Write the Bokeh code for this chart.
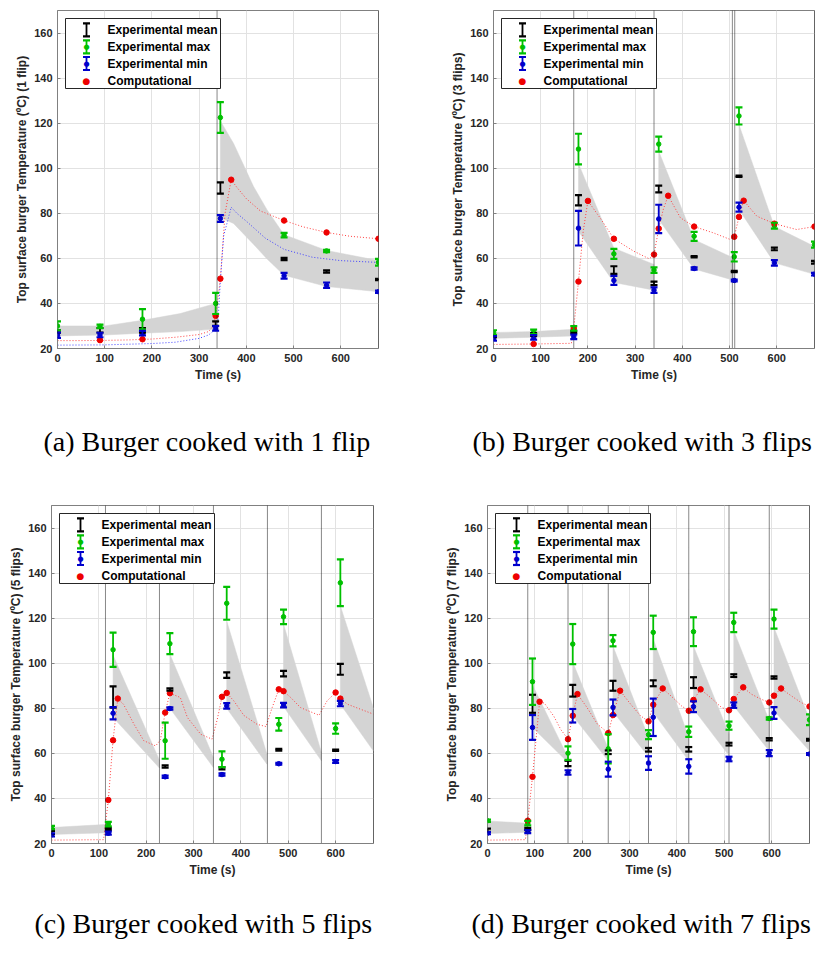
from bokeh.plotting import figure
from bokeh.models import (ColumnDataSource, Whisker, TeeHead, Span, Label,
                          BoxAnnotation, Range1d, FixedTicker, Title)
from bokeh.layouts import row, column
from bokeh.embed import file_html
from bokeh.resources import INLINE

# ---------------- Panel (a): 1 flip ----------------
A_T = [0, 90, 180, 335, 345, 480, 570, 680]
A_MEAN = [27.5, 28.1, 28.0, 31.0, 91.2, 59.7, 54.2, 50.6]
A_MEAN_ERR = [0.5, 1.0, 1.0, 1.0, 2.5, 0.5, 0.5, 0.3]
A_MAX = [30.0, 29.8, 33.0, 40.0, 122.5, 70.3, 63.3, 58.3]
A_MAX_ERR = [2.0, 0.8, 4.5, 4.7, 6.8, 1.0, 0.5, 1.5]
A_MIN = [25.9, 26.0, 26.8, 28.9, 77.7, 52.3, 48.1, 45.2]
A_MIN_ERR = [1.2, 1.0, 1.0, 1.0, 1.5, 1.3, 1.2, 0.5]
A_COMP_T = [90, 180, 335, 345, 368, 480, 570, 680]
A_COMP = [23.7, 24.1, 34.5, 51.0, 94.9, 76.8, 71.5, 68.7]
A_CURVE_T = [0, 50, 100, 150, 200, 250, 300, 320, 330, 335, 340, 345, 355, 368, 380, 400, 430, 480, 520, 570, 620, 680]
A_CURVE = [23.5, 23.5, 23.6, 23.8, 24.2, 25.0, 26.2, 27.5, 30.0, 34.5, 42.0, 51.0, 80.0, 94.9, 91.5, 86.5, 81.0, 76.8, 74.0, 71.5, 69.8, 68.7]
A_MINCURVE_T = [0, 100, 200, 250, 300, 320, 335, 340, 345, 352, 368, 380, 400, 440, 480, 540, 600, 680]
A_MINCURVE = [21.5, 21.6, 22.2, 22.8, 24.5, 26.0, 28.5, 32.0, 50.0, 70.0, 82.7, 80.0, 76.5, 69.0, 64.0, 60.5, 59.0, 58.2]
A_BAND_T = [[0, 100, 180, 260, 335], [345, 373, 415, 444, 480, 570, 680]]
A_BAND_HI = [[30.0, 30.0, 32.5, 35.5, 40.0], [121.0, 111.0, 92.0, 81.5, 70.5, 63.5, 59.0]]
A_BAND_LO = [[25.6, 26.0, 26.8, 27.5, 28.6], [78.0, 75.5, 66.3, 59.7, 52.5, 47.5, 45.2]]
A_FLIPS = [338, 680]

# ---------------- Panel (b): 3 flips ----------------
B_T = [0, 85, 170, 180, 255, 340, 350, 425, 510, 520, 595, 680]
B_MEAN = [25.5, 26.2, 27.3, 85.8, 54.8, 48.9, 90.8, 60.7, 54.2, 96.4, 64.2, 58.3]
B_MEAN_ERR = [0.5, 0.6, 0.5, 2.3, 1.7, 0.8, 1.5, 0.3, 0.3, 0.3, 0.6, 0.6]
B_MAX = [27.1, 27.4, 28.9, 108.5, 62.0, 54.8, 110.7, 69.8, 60.7, 123.2, 74.5, 66.1]
B_MAX_ERR = [1.0, 1.0, 1.0, 6.8, 2.2, 1.2, 3.3, 2.0, 2.1, 3.8, 1.3, 1.3]
B_MIN = [24.5, 24.9, 25.2, 73.4, 50.2, 45.9, 77.5, 55.5, 50.2, 82.7, 58.0, 53.0]
B_MIN_ERR = [1.0, 1.0, 1.0, 7.7, 2.0, 1.2, 6.3, 0.5, 0.4, 2.0, 1.2, 0.6]
B_COMP_T = [85, 170, 180, 200, 255, 340, 350, 370, 425, 510, 520, 530, 595, 680]
B_COMP = [22.0, 29.0, 49.7, 85.5, 68.7, 61.7, 73.2, 87.8, 74.1, 69.6, 78.4, 85.6, 75.4, 74.1]
B_CURVE_T = [0, 85, 165, 170, 180, 190, 200, 227, 255, 297, 330, 340, 350, 360, 370, 396, 425, 466, 500, 510, 520, 530, 558, 595, 642, 680]
B_CURVE = [21.8, 22.0, 22.3, 29.0, 49.7, 72.0, 85.5, 77.6, 68.7, 63.2, 59.8, 61.7, 73.2, 82.0, 87.8, 78.0, 74.1, 71.3, 68.5, 69.6, 78.4, 85.6, 78.7, 75.4, 72.8, 74.1]
B_BAND_T = [[0, 85, 170], [180, 255, 340], [350, 425, 510], [520, 595, 680]]
B_BAND_HI = [[27.1, 27.5, 28.5], [102.0, 64.5, 57.3], [107.5, 68.3, 60.0], [119.3, 74.1, 65.3]]
B_BAND_LO = [[24.5, 25.0, 25.6], [72.0, 49.3, 45.9], [77.2, 55.3, 50.2], [81.7, 58.0, 52.9]]
B_FLIPS = [170, 340, 506, 511, 680]

# ---------------- Panel (c): 5 flips ----------------
C_T = [0, 120, 130, 240, 250, 360, 370, 480, 490, 600, 610]
C_MEAN = [24.9, 26.4, 85.0, 54.2, 88.3, 53.4, 94.7, 61.6, 95.4, 61.4, 97.3]
C_MEAN_ERR = [0.7, 0.5, 4.7, 0.5, 0.5, 0.5, 1.2, 0.4, 1.2, 0.3, 2.4]
C_MAX = [27.1, 28.6, 106.0, 65.6, 108.7, 57.4, 126.6, 72.9, 120.6, 71.0, 135.7]
C_MAX_ERR = [0.7, 1.0, 7.6, 8.0, 4.7, 3.5, 7.3, 2.8, 3.2, 2.3, 10.4]
C_MIN = [23.8, 24.6, 77.8, 49.6, 79.9, 50.6, 81.1, 55.4, 81.4, 56.4, 82.1]
C_MIN_ERR = [0.7, 0.7, 2.7, 0.5, 0.5, 0.5, 1.2, 0.4, 1.0, 0.6, 1.2]
C_COMP_T = [120, 130, 140, 240, 250, 360, 370, 480, 490, 600, 610]
C_COMP = [39.3, 65.8, 84.3, 78.1, 86.7, 85.1, 86.8, 88.4, 87.6, 87.0, 84.3]
C_CURVE_T = [0, 110, 120, 130, 140, 152, 174, 195, 220, 230, 240, 250, 272, 287, 315, 339, 350, 360, 370, 385, 406, 434, 453, 466, 480, 490, 505, 526, 565, 582, 600, 610, 625, 680]
C_CURVE = [21.5, 21.7, 39.3, 65.8, 84.3, 81.8, 73.0, 65.6, 63.3, 66.0, 78.1, 86.7, 84.8, 75.9, 68.5, 66.3, 75.0, 85.1, 86.8, 83.3, 76.9, 72.9, 71.9, 80.3, 88.4, 87.6, 84.8, 80.3, 76.9, 83.3, 87.0, 84.3, 81.8, 77.4]
C_BAND_T = [[0, 120], [130, 228], [250, 342], [370, 455], [490, 570], [610, 680]]
C_BAND_HI = [[27.1, 28.5], [103.5, 57.0], [104.0, 58.2], [118.7, 59.6], [117.3, 60.4], [125.4, 80.0]]
C_BAND_LO = [[24.0, 24.8], [76.0, 53.5], [80.0, 53.7], [80.0, 55.2], [80.8, 56.7], [81.8, 61.0]]
C_FLIPS = [114, 228, 342, 456, 570, 680]

# ---------------- Panel (d): 7 flips ----------------
D_T = [0, 85, 95, 170, 180, 255, 265, 340, 350, 425, 435, 510, 520, 595, 605, 680]
D_MEAN = [25.9, 26.4, 82.0, 55.5, 87.8, 60.5, 90.0, 61.6, 91.1, 61.8, 91.4, 64.1, 94.5, 66.3, 93.7, 66.0]
D_MEAN_ERR = [0.7, 0.5, 4.0, 1.2, 2.6, 0.8, 2.2, 0.8, 1.3, 1.0, 2.4, 0.6, 0.6, 0.5, 0.5, 0.4]
D_MAX = [30.1, 29.0, 91.8, 60.1, 108.5, 62.0, 110.0, 68.3, 113.7, 69.6, 114.0, 72.3, 118.1, 75.5, 119.6, 74.9]
D_MAX_ERR = [0.5, 1.0, 10.3, 3.0, 8.9, 6.5, 2.5, 2.0, 7.4, 2.3, 6.4, 1.8, 4.3, 0.5, 4.2, 2.4]
D_MIN = [24.6, 25.3, 71.5, 51.5, 76.7, 53.0, 80.4, 55.7, 76.0, 54.2, 80.7, 57.5, 81.4, 60.1, 77.9, 59.7]
D_MIN_ERR = [0.5, 0.7, 5.5, 1.0, 3.0, 3.3, 3.5, 3.0, 8.3, 3.2, 2.4, 1.0, 1.2, 1.3, 2.6, 0.4]
D_COMP_T = [85, 95, 110, 170, 180, 190, 255, 265, 280, 340, 350, 370, 425, 435, 450, 510, 520, 540, 595, 605, 620, 680]
D_COMP = [30.1, 49.6, 82.9, 66.3, 76.7, 86.3, 69.0, 77.0, 87.8, 74.2, 81.6, 88.8, 78.9, 83.7, 88.4, 79.1, 84.1, 89.3, 82.6, 85.6, 88.8, 80.8]
D_CURVE_T = [0, 80, 85, 95, 110, 120, 140, 155, 170, 180, 190, 210, 232, 255, 265, 280, 302, 323, 340, 350, 370, 390, 410, 425, 435, 450, 471, 494, 510, 520, 540, 557, 577, 595, 605, 620, 641, 662, 680]
D_CURVE = [21.5, 21.7, 30.1, 49.6, 82.9, 82.3, 76.5, 70.5, 66.3, 76.7, 86.3, 80.4, 73.0, 69.0, 77.0, 87.8, 81.9, 76.7, 74.2, 81.6, 88.8, 85.0, 81.0, 78.9, 83.7, 88.4, 84.8, 80.4, 79.1, 84.1, 89.3, 86.3, 84.1, 82.6, 85.6, 88.8, 85.6, 82.6, 80.8]
D_BAND_T = [[0, 85], [95, 170], [180, 255], [265, 340], [350, 425], [435, 510], [520, 595], [605, 680]]
D_BAND_HI = [[30.0, 29.0], [90.3, 58.2], [100.4, 62.0], [107.5, 67.0], [110.7, 67.1], [107.5, 68.6], [114.4, 74.5], [115.9, 75.0]]
D_BAND_LO = [[24.4, 25.0], [71.5, 56.0], [76.7, 56.7], [78.6, 58.5], [78.2, 56.7], [79.7, 59.0], [81.1, 61.0], [78.9, 61.0]]
D_FLIPS = [85, 170, 255, 340, 425, 510, 595, 680]

X_TICKS = [0, 100, 200, 300, 400, 500, 600]
Y_TICKS = [20, 40, 60, 80, 100, 120, 140, 160]
LEGEND_LABELS = ["Experimental mean", "Experimental max", "Experimental min", "Computational"]

SANS = "Liberation Sans"
SERIF = "Liberation Serif"
AXC = "#262626"
EDGE = "#808080"
GRID = "#e2e2e2"
GREEN = "#00c000"
BLUE = "#0000cc"
RED = "#ee0000"
BAND = "#d4d4d4"
X0, X1, Y0, Y1 = 0, 680, 20, 170


def ibeam(p, src, color):
    p.add_layout(Whisker(source=src, base="t", upper="up", lower="lo",
                         dimension="height", line_color=color, line_width=1.8,
                         level="annotation",
                         upper_head=TeeHead(size=7, line_color=color, line_width=2.2),
                         lower_head=TeeHead(size=7, line_color=color, line_width=2.2)))


def errbars(p, t, v, e, color):
    src = ColumnDataSource(dict(t=t, up=[a + b for a, b in zip(v, e)],
                                lo=[a - b for a, b in zip(v, e)]))
    ibeam(p, src, color)


def legend_box(p, fw, fh):
    # legend drawn with annotations; positions are pixel offsets inside the frame
    sx = (X1 - X0) / fw
    sy = (Y1 - Y0) / fh

    def dx(px):
        return X0 + px * sx

    def dy(py):
        return Y1 - py * sy

    p.add_layout(BoxAnnotation(left=dx(8), right=dx(163), top=dy(8), bottom=dy(78),
                               fill_color="white", fill_alpha=1.0, line_color=AXC,
                               line_alpha=1.0, line_width=1, level="annotation"))
    rows = [19.3, 36.3, 53.0, 70.0]
    for i, col in enumerate(["black", GREEN, BLUE]):
        half = 6.5 * sy
        src = ColumnDataSource(dict(t=[dx(29)], up=[dy(rows[i]) + half],
                                    lo=[dy(rows[i]) - half]))
        ibeam(p, src, col)
    for i, (col, fs) in enumerate([(GREEN, "7px"), (BLUE, "7px"), (RED, "9px")]):
        p.add_layout(Label(x=dx(29), y=dy(rows[i + 1]), text="\u25cf", text_color=col,
                           text_font="DejaVu Sans", text_font_size=fs,
                           text_align="center", text_baseline="middle"))
    for i, lab in enumerate(LEGEND_LABELS):
        p.add_layout(Label(x=dx(50), y=dy(rows[i]), text=lab, text_color="black",
                           text_font=SANS, text_font_style="bold",
                           text_font_size="12px", text_align="left",
                           text_baseline="middle"))


def panel(suffix, caption, g, t, mean, mean_e, mx, mx_e, mn, mn_e,
          comp_t, comp, curve_t, curve, band_t, band_hi, band_lo, flips,
          min_t=None, min_c=None):
    fw = g["w"] - g["ml"] - g["mr"]
    fh = g["h"] - g["mt"] - g["mb"]
    p = figure(width=g["w"], height=g["h"], min_border_left=g["ml"],
               min_border_right=g["mr"], min_border_top=g["mt"],
               min_border_bottom=g["mb"], x_range=Range1d(X0, X1),
               y_range=Range1d(Y0, Y1), output_backend="svg",
               toolbar_location=None, background_fill_color="white",
               border_fill_color="white")
    p.outline_line_color = EDGE
    p.outline_line_width = 1
    p.xaxis.ticker = FixedTicker(ticks=X_TICKS)
    p.yaxis.ticker = FixedTicker(ticks=Y_TICKS)
    p.grid.grid_line_color = GRID
    p.grid.grid_line_width = 1
    for ax in p.axis:
        ax.major_label_text_font = SANS
        ax.major_label_text_font_style = "bold"
        ax.major_label_text_font_size = "11px"
        ax.major_label_text_color = AXC
        ax.axis_label_text_font = SANS
        ax.axis_label_text_font_style = "bold"
        ax.axis_label_text_font_size = "12px"
        ax.axis_label_text_color = AXC
        ax.major_tick_in = 3
        ax.major_tick_out = 0
        ax.minor_tick_in = 0
        ax.minor_tick_out = 0
        ax.axis_line_color = EDGE
        ax.major_tick_line_color = EDGE
    p.xaxis.axis_label = "Time (s)"
    p.xaxis.major_label_standoff = 5
    p.xaxis.axis_label_standoff = 3
    p.yaxis.axis_label = "Top surface burger Temperature (\u00baC) (%s)" % suffix
    p.yaxis.major_label_standoff = 5
    p.yaxis.axis_label_standoff = 2

    xs = [list(bt) + list(bt)[::-1] for bt in band_t]
    ys = [list(h) + list(l)[::-1] for h, l in zip(band_hi, band_lo)]
    p.patches(xs, ys, fill_color=BAND, line_color=BAND, line_width=0.5)

    p.line(curve_t, curve, line_color="#ff4040", line_width=1, line_dash="1 2")
    if min_t is not None:
        p.line(min_t, min_c, line_color="#4040ff", line_width=1, line_dash="1 2")

    for f in flips:
        p.add_layout(Span(location=f, dimension="height", line_color="#111111",
                          line_width=1, line_dash="1 1"))

    p.scatter(t, mx, size=4.5, color=GREEN)
    p.scatter(t, mn, size=4.5, color=BLUE)
    p.scatter(comp_t, comp, size=5.5, color=RED)

    errbars(p, t, mean, mean_e, "black")
    errbars(p, t, mx, mx_e, GREEN)
    errbars(p, t, mn, mn_e, BLUE)

    legend_box(p, fw, fh)

    p.add_layout(Title(text=" ", text_font_size="%dpx" % g["gap"]), "below")
    p.add_layout(Title(text=caption, align="left", offset=g["cap"], text_font=SERIF,
                       text_font_size="28px", text_font_style="normal",
                       text_color="black"), "below")
    return p


GA = dict(w=418, h=485, ml=57, mr=40, mt=10, mb=137, gap=20, cap=-14)
GB = dict(w=402, h=485, ml=75, mr=6, mt=10, mb=137, gap=20, cap=-21)
GC = dict(w=418, h=460, ml=51, mr=45, mt=20, mb=102, gap=8, cap=-17)
GD = dict(w=402, h=460, ml=69, mr=11, mt=20, mb=102, gap=8, cap=-16)

pa = panel("1 flip", "(a) Burger cooked with 1 flip", GA, A_T, A_MEAN, A_MEAN_ERR,
           A_MAX, A_MAX_ERR, A_MIN, A_MIN_ERR, A_COMP_T, A_COMP, A_CURVE_T, A_CURVE,
           A_BAND_T, A_BAND_HI, A_BAND_LO, A_FLIPS, A_MINCURVE_T, A_MINCURVE)
pb = panel("3 flips", "(b) Burger cooked with 3 flips", GB, B_T, B_MEAN, B_MEAN_ERR,
           B_MAX, B_MAX_ERR, B_MIN, B_MIN_ERR, B_COMP_T, B_COMP, B_CURVE_T, B_CURVE,
           B_BAND_T, B_BAND_HI, B_BAND_LO, B_FLIPS)
pc = panel("5 flips", "(c) Burger cooked with 5 flips", GC, C_T, C_MEAN, C_MEAN_ERR,
           C_MAX, C_MAX_ERR, C_MIN, C_MIN_ERR, C_COMP_T, C_COMP, C_CURVE_T, C_CURVE,
           C_BAND_T, C_BAND_HI, C_BAND_LO, C_FLIPS)
pd = panel("7 flips", "(d) Burger cooked with 7 flips", GD, D_T, D_MEAN, D_MEAN_ERR,
           D_MAX, D_MAX_ERR, D_MIN, D_MIN_ERR, D_COMP_T, D_COMP, D_CURVE_T, D_CURVE,
           D_BAND_T, D_BAND_HI, D_BAND_LO, D_FLIPS)

layout = column(row(pa, pb), row(pc, pd))
open("out.html", "w").write(file_html(layout, INLINE))
